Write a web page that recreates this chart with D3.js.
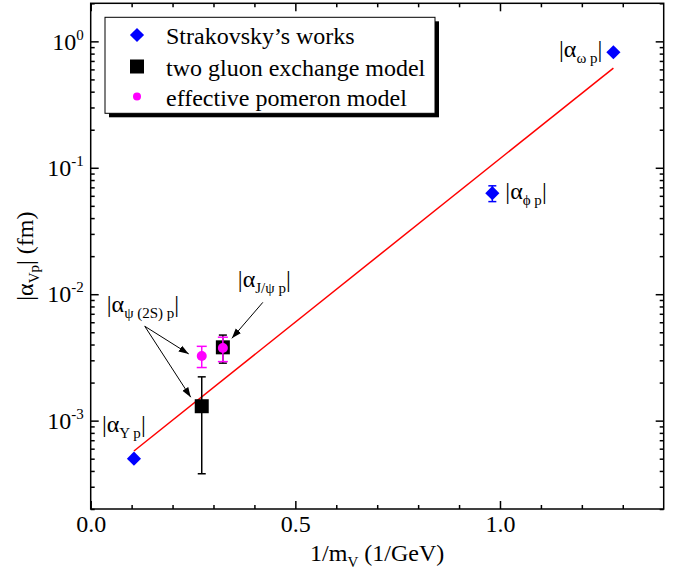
<!DOCTYPE html>
<html><head><meta charset="utf-8">
<script src="https://cdn.jsdelivr.net/npm/d3@7"></script>
<style>
body{margin:0;background:#fff}
svg text{font-family:'Liberation Serif','Times New Roman',Times,'DejaVu Serif',serif !important;fill:#000}
</style>
</head><body>
<svg id="c" width="683" height="579"></svg>
<script>
// ---- data ----
const strakX = [0.1057, 0.9813, 1.2771];
const strakY = [5.0e-4, 0.063, 0.82];
const strakErr = [0, 0.009, 0];
const strakSub = ["Υ p", "ϕ p", "ω p"];
const gluonX = [0.2713, 0.3229];
const gluonY = [1.3e-3, 3.8e-3];
const gluonErr = [0.92e-3, 0.95e-3];
const pomX = [0.2713, 0.3229];
const pomY = [3.25e-3, 3.75e-3];
const pomErr = [0.62e-3, 0.82e-3];
const fitX = [0.1057, 1.2771];
const fitY = [5.75e-4, 0.615];
const xTicks = [0, 0.5, 1.0];
const xTickLabels = ["0.0", "0.5", "1.0"];
const xMinor = [0.1,0.2,0.3,0.4,0.6,0.7,0.8,0.9,1.1,1.2,1.3];
const yTicks = [1e-3, 1e-2, 1e-1, 1];
const yTickExp = ["-3", "-2", "-1", "0"];
const legendLabels = ["Strakovsky’s works", "two gluon exchange model", "effective pomeron model"];

const FONT = "'Liberation Serif','Times New Roman',Times,'DejaVu Serif',serif";
const svg = d3.select("#c");
const L = 90.7, R = 663.7, T = 3.3, B = 509;
const x = d3.scaleLinear().domain([0, 1.4]).range([L, R]);
const y = d3.scaleLog().domain([2e-4, 2]).range([B, T]);

const yMinor = [];
for (let e = -4; e <= 0; e++) for (let k = 2; k <= 9; k++) {
  const v = k * Math.pow(10, e);
  if (v >= 2e-4 * 0.999 && v <= 2 * 1.001) yMinor.push(v);
}

function styleAxis(g) {
  g.attr("font-family", FONT).attr("font-size", 24);
  g.select(".domain").remove();
  g.selectAll("line").attr("stroke", "#000").attr("stroke-width", 1.5);
  g.selectAll("text").attr("fill", "#000");
}

// bottom
svg.append("g").attr("transform", `translate(0,${B})`)
  .call(d3.axisBottom(x).tickValues(xTicks).tickSize(-8).tickPadding(6).tickFormat((d, i) => xTickLabels[i]))
  .call(styleAxis);
svg.append("g").attr("transform", `translate(0,${B})`)
  .call(d3.axisBottom(x).tickValues(xMinor).tickSize(-4).tickFormat(""))
  .call(styleAxis);
// top
svg.append("g").attr("transform", `translate(0,${T})`)
  .call(d3.axisTop(x).tickValues(xTicks).tickSize(-8).tickFormat(""))
  .call(styleAxis);
svg.append("g").attr("transform", `translate(0,${T})`)
  .call(d3.axisTop(x).tickValues(xMinor).tickSize(-4).tickFormat(""))
  .call(styleAxis);
// left
const gl = svg.append("g").attr("transform", `translate(${L},0)`)
  .call(d3.axisLeft(y).tickValues(yTicks).tickSize(-8).tickPadding(7).tickFormat(""))
  .call(styleAxis);
gl.selectAll(".tick text").each(function(d, i) {
  const t = d3.select(this).attr("dy", "0.32em");
  t.append("tspan").text("10");
  t.append("tspan").attr("dy", -10).attr("font-size", 15).text(yTickExp[i]);
});
svg.append("g").attr("transform", `translate(${L},0)`)
  .call(d3.axisLeft(y).tickValues(yMinor).tickSize(-4).tickFormat(""))
  .call(styleAxis);
// right
svg.append("g").attr("transform", `translate(${R},0)`)
  .call(d3.axisRight(y).tickValues(yTicks).tickSize(-8).tickFormat(""))
  .call(styleAxis);
svg.append("g").attr("transform", `translate(${R},0)`)
  .call(d3.axisRight(y).tickValues(yMinor).tickSize(-4).tickFormat(""))
  .call(styleAxis);

// frame
svg.append("rect").attr("x", L).attr("y", T).attr("width", R - L).attr("height", B - T)
  .attr("fill", "none").attr("stroke", "#000").attr("stroke-width", 1.5);

function txt(px, py) {
  return svg.append("text").attr("x", px).attr("y", py).attr("font-family", FONT).attr("font-size", 24);
}

// axis titles
const xt = txt((L + R) / 2, 561).attr("text-anchor", "middle");
xt.append("tspan").text("1/m");
xt.append("tspan").attr("dy", 6).attr("font-size", 15).text("V");
xt.append("tspan").attr("dy", -6).text(" (1/GeV)");

const yt = txt(0, 0).attr("transform", `translate(33,${(T + B) / 2}) rotate(-90)`).attr("text-anchor", "middle");
yt.append("tspan").text("|α");
yt.append("tspan").attr("dy", 6).attr("font-size", 15).text("Vp");
yt.append("tspan").attr("dy", -6).text("| (fm)");

// fit line
svg.append("path").datum(fitX.map((v, i) => [v, fitY[i]]))
  .attr("d", d3.line().x(d => x(d[0])).y(d => y(d[1])))
  .attr("fill", "none").attr("stroke", "#ff0000").attr("stroke-width", 1.5);

// error bars helper
function errBars(xs, ys, es, color, cap) {
  xs.forEach((xv, i) => {
    if (!es[i]) return;
    const g = svg.append("g").attr("stroke", color).attr("stroke-width", 1.5);
    const cx = x(xv), y1 = y(ys[i] + es[i]), y2 = y(ys[i] - es[i]);
    g.append("line").attr("x1", cx).attr("x2", cx).attr("y1", y1).attr("y2", y2);
    g.append("line").attr("x1", cx - cap).attr("x2", cx + cap).attr("y1", y1).attr("y2", y1);
    g.append("line").attr("x1", cx - cap).attr("x2", cx + cap).attr("y1", y2).attr("y2", y2);
  });
}

errBars(gluonX, gluonY, gluonErr, "#000", 4);
svg.selectAll(".sq").data(gluonX).enter().append("rect")
  .attr("x", d => x(d) - 7).attr("y", (d, i) => y(gluonY[i]) - 7)
  .attr("width", 14).attr("height", 14).attr("fill", "#000");

errBars(pomX, pomY, pomErr, "#ff00ff", 5);
svg.selectAll(".ci").data(pomX).enter().append("circle")
  .attr("cx", d => x(d)).attr("cy", (d, i) => y(pomY[i])).attr("r", 5).attr("fill", "#ff00ff");

errBars(strakX, strakY, strakErr, "#0000ff", 4);
const diamond = d3.symbol().type(d3.symbolSquare).size(100);
svg.selectAll(".di").data(strakX).enter().append("path")
  .attr("d", diamond)
  .attr("transform", (d, i) => `translate(${x(d)},${y(strakY[i])}) rotate(45)`)
  .attr("fill", "#0000ff");

// annotations
function alphaLabel(px, py, sub, anchor) {
  const t = txt(px, py).attr("text-anchor", anchor || "start");
  t.append("tspan").text("|α");
  t.append("tspan").attr("dy", 6).attr("font-size", 15).text(sub);
  t.append("tspan").attr("dy", -6).text("|");
  return t;
}
alphaLabel(x(strakX[0]) - 32, y(strakY[0]) - 27, strakSub[0]);
alphaLabel(x(strakX[1]) + 13, y(strakY[1]) + 6, strakSub[1]);
alphaLabel(x(strakX[2]) - 11, y(strakY[2]) + 5, strakSub[2], "end");
alphaLabel(x(gluonX[1]) + 15, y(gluonY[1]) - 60, "J/ψ p");
alphaLabel(x(gluonX[0]) - 95, y(gluonY[0]) - 94, "ψ (2S) p");

// arrows
svg.append("defs").append("marker").attr("id", "ah").attr("viewBox", "0 0 10 10")
  .attr("refX", 10).attr("refY", 5).attr("markerWidth", 10).attr("markerHeight", 10)
  .attr("markerUnits", "userSpaceOnUse").attr("orient", "auto")
  .append("path").attr("d", "M0,1.5 L10,5 L0,8.5 Z").attr("fill", "#000");
function arrow(x1, y1, x2, y2) {
  svg.append("line").attr("x1", x1).attr("y1", y1).attr("x2", x2).attr("y2", y2)
    .attr("stroke", "#000").attr("stroke-width", 1).attr("marker-end", "url(#ah)");
}
arrow(x(gluonX[1]) + 40, y(gluonY[1]) - 45, x(gluonX[1]) + 9, y(gluonY[1]) - 9);
arrow(x(gluonX[0]) - 57, y(gluonY[0]) - 80, x(pomX[0]) - 13, y(pomY[0]) - 2);
arrow(x(gluonX[0]) - 57, y(gluonY[0]) - 80, x(gluonX[0]) - 11, y(gluonY[0]) - 9);

// legend
const lx = 105, ly = 17.3, lw = 330, lh = 96;
svg.append("rect").attr("x", lx + 4).attr("y", ly + 4).attr("width", lw).attr("height", lh).attr("fill", "#000");
svg.append("rect").attr("x", lx).attr("y", ly).attr("width", lw).attr("height", lh).attr("fill", "#fff").attr("stroke", "#000").attr("stroke-width", 1);
const rowY = [35, 66.5, 96.5];
svg.append("path").attr("d", diamond).attr("transform", `translate(137,${rowY[0]}) rotate(45)`).attr("fill", "#0000ff");
svg.append("rect").attr("x", 130).attr("y", rowY[1] - 7).attr("width", 14).attr("height", 14).attr("fill", "#000");
svg.append("circle").attr("cx", 137).attr("cy", rowY[2]).attr("r", 4).attr("fill", "#ff00ff");
legendLabels.forEach((s, i) => {
  txt(166, rowY[i] + 9).text(s);
});
</script>
</body></html>
